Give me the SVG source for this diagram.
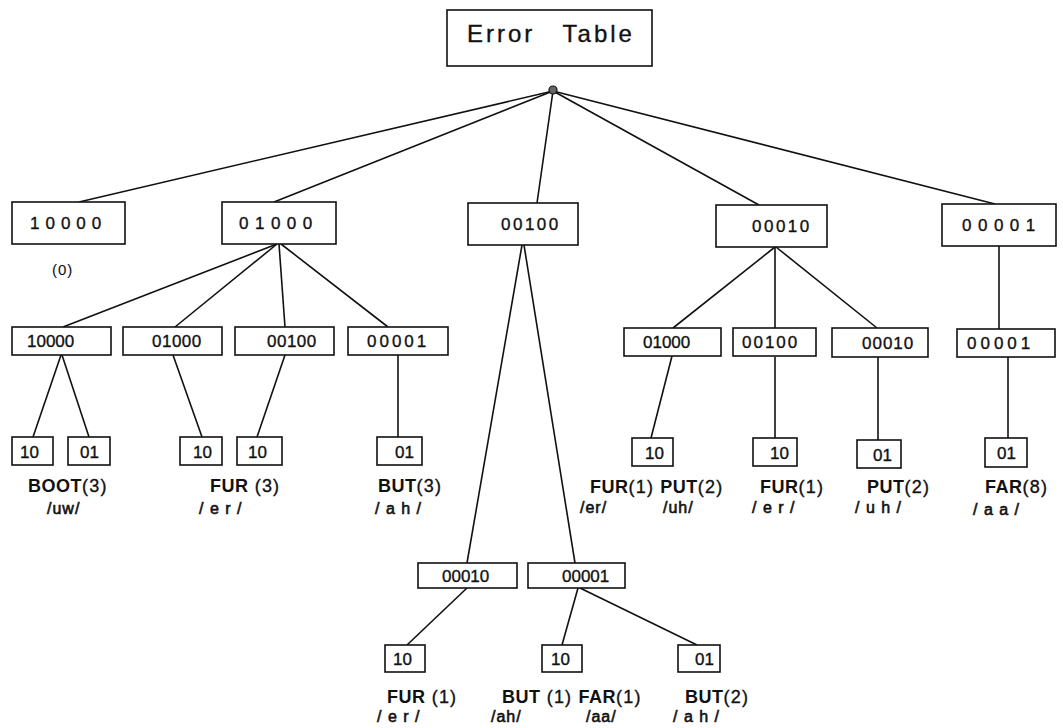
<svg xmlns="http://www.w3.org/2000/svg" width="1063" height="728" viewBox="0 0 1063 728">
<style>
  .box { fill: #fff; stroke: #111; stroke-width: 1.6; }
  .ln { stroke: #111; stroke-width: 1.6; fill: none; }
  text { font-family: "Liberation Sans", Arial, sans-serif; fill: #111; stroke: #111; stroke-width: 0.35; }
  .title { font-size: 24px; letter-spacing: 3px; word-spacing: 18px; }
  .l1 { font-size: 17px; }
  .l2 { font-size: 17px; }
  .lf { font-size: 17px; }
  .lab { font-size: 18px; letter-spacing: 1.2px; }
  .w { font-weight: bold; stroke-width: 0; letter-spacing: 0.5px; }
  .ph { font-size: 16px; letter-spacing: 1px; stroke-width: 0.6; }
  .cnt { font-size: 15px; letter-spacing: 1px; stroke-width: 0.1; }
</style>
<rect width="1063" height="728" fill="#fff"/>

<g id="connectors">
  <line class="ln" x1="553" y1="91" x2="79" y2="202"/>
  <line class="ln" x1="553" y1="91" x2="274" y2="202"/>
  <line class="ln" x1="553" y1="91" x2="537" y2="203"/>
  <line class="ln" x1="553" y1="91" x2="759" y2="205"/>
  <line class="ln" x1="553" y1="91" x2="995" y2="204"/>

  <line class="ln" x1="277" y1="244" x2="63" y2="327"/>
  <line class="ln" x1="277" y1="244" x2="175" y2="327"/>
  <line class="ln" x1="279" y1="244" x2="285" y2="327"/>
  <line class="ln" x1="281" y1="244" x2="388" y2="327"/>

  <line class="ln" x1="522" y1="245" x2="467" y2="563"/>
  <line class="ln" x1="524" y1="245" x2="575" y2="563"/>

  <line class="ln" x1="775" y1="247" x2="673" y2="328"/>
  <line class="ln" x1="775" y1="247" x2="775" y2="328"/>
  <line class="ln" x1="776" y1="247" x2="877" y2="328"/>
  <line class="ln" x1="999" y1="246" x2="999" y2="329"/>

  <line class="ln" x1="61" y1="355" x2="33" y2="437"/>
  <line class="ln" x1="62" y1="355" x2="89" y2="437"/>
  <line class="ln" x1="173" y1="355" x2="202" y2="437"/>
  <line class="ln" x1="285" y1="355" x2="257" y2="437"/>
  <line class="ln" x1="398" y1="355" x2="398" y2="437"/>
  <line class="ln" x1="672" y1="356" x2="651" y2="438"/>
  <line class="ln" x1="775" y1="357" x2="775" y2="438"/>
  <line class="ln" x1="878" y1="357" x2="878" y2="440"/>
  <line class="ln" x1="1008" y1="357" x2="1008" y2="438"/>

  <line class="ln" x1="467" y1="588" x2="407" y2="645"/>
  <line class="ln" x1="578" y1="588" x2="562" y2="645"/>
  <line class="ln" x1="580" y1="588" x2="697" y2="645"/>
</g>

<g id="root">
  <rect class="box" x="447" y="10" width="205" height="56"/>
  <text class="title" x="467" y="42">Error Table</text>
  <circle cx="553" cy="90" r="4" fill="#666" stroke="#111" stroke-width="1.2"/>
</g>

<g id="n1-10000">
  <rect class="box" x="12" y="202" width="113" height="42"/>
  <text class="l1" x="30" y="229" style="letter-spacing:6px">10000</text>
  <text class="cnt" x="52" y="275">(0)</text>
</g>
<g id="n1-01000">
  <rect class="box" x="222" y="202" width="114" height="42"/>
  <text class="l1" x="239" y="229" style="letter-spacing:6.5px">01000</text>
</g>
<g id="n1-00100">
  <rect class="box" x="468" y="203" width="110" height="42"/>
  <text class="l1" x="501" y="230" style="letter-spacing:2.5px">00100</text>
</g>
<g id="n1-00010">
  <rect class="box" x="716" y="205" width="111" height="42"/>
  <text class="l1" x="752" y="232" style="letter-spacing:2.5px">00010</text>
</g>
<g id="n1-00001">
  <rect class="box" x="942" y="204" width="114" height="42"/>
  <text class="l1" x="962" y="231" style="letter-spacing:6.5px">00001</text>
</g>

<g id="n2-a-10000">
  <rect class="box" x="12" y="327" width="99" height="28"/>
  <text class="l2" x="27" y="347">10000</text>
</g>
<g id="n2-a-01000">
  <rect class="box" x="123" y="327" width="99" height="28"/>
  <text class="l2" x="152" y="347" style="letter-spacing:0.5px">01000</text>
</g>
<g id="n2-a-00100">
  <rect class="box" x="235" y="327" width="99" height="28"/>
  <text class="l2" x="267" y="347" style="letter-spacing:0.5px">00100</text>
</g>
<g id="n2-a-00001">
  <rect class="box" x="348" y="327" width="100" height="28"/>
  <text class="l2" x="367" y="347" style="letter-spacing:3px">00001</text>
</g>

<g id="n2-d-01000">
  <rect class="box" x="624" y="328" width="97" height="28"/>
  <text class="l2" x="643" y="348">01000</text>
</g>
<g id="n2-d-00100">
  <rect class="box" x="733" y="328" width="83" height="28"/>
  <text class="l2" x="742" y="348" style="letter-spacing:2px">00100</text>
</g>
<g id="n2-d-00010">
  <rect class="box" x="832" y="328" width="96" height="29"/>
  <text class="l2" x="862" y="349" style="letter-spacing:1px">00010</text>
</g>
<g id="n2-e-00001">
  <rect class="box" x="957" y="329" width="98" height="28"/>
  <text class="l2" x="967" y="349" style="letter-spacing:4px">00001</text>
</g>

<g id="n3-boot-10">
  <rect class="box" x="12" y="437" width="41" height="28"/>
  <text class="lf" x="20" y="458">10</text>
</g>
<g id="n3-boot-01">
  <rect class="box" x="68" y="437" width="42" height="28"/>
  <text class="lf" x="80" y="458">01</text>
</g>
<g id="n3-fur-10a">
  <rect class="box" x="180" y="437" width="42" height="28"/>
  <text class="lf" x="193" y="458">10</text>
</g>
<g id="n3-fur-10b">
  <rect class="box" x="237" y="437" width="45" height="28"/>
  <text class="lf" x="248" y="458">10</text>
</g>
<g id="n3-but-01">
  <rect class="box" x="377" y="437" width="45" height="28"/>
  <text class="lf" x="395" y="458">01</text>
</g>
<g id="n3-d-10a">
  <rect class="box" x="632" y="438" width="41" height="28"/>
  <text class="lf" x="645" y="459">10</text>
</g>
<g id="n3-d-10b">
  <rect class="box" x="753" y="438" width="44" height="28"/>
  <text class="lf" x="770" y="459">10</text>
</g>
<g id="n3-d-01">
  <rect class="box" x="857" y="440" width="44" height="28"/>
  <text class="lf" x="873" y="461">01</text>
</g>
<g id="n3-e-01">
  <rect class="box" x="985" y="438" width="42" height="29"/>
  <text class="lf" x="997" y="459">01</text>
</g>

<g id="n4-c-00010">
  <rect class="box" x="418" y="563" width="99" height="25"/>
  <text class="l2" x="442" y="582">00010</text>
</g>
<g id="n4-c-00001">
  <rect class="box" x="528" y="563" width="97" height="25"/>
  <text class="l2" x="562" y="582">00001</text>
</g>

<g id="n5-fur-10">
  <rect class="box" x="385" y="645" width="40" height="27"/>
  <text class="lf" x="393" y="665">10</text>
</g>
<g id="n5-but-10">
  <rect class="box" x="542" y="645" width="40" height="27"/>
  <text class="lf" x="551" y="665">10</text>
</g>
<g id="n5-but-01">
  <rect class="box" x="678" y="645" width="42" height="27"/>
  <text class="lf" x="695" y="665">01</text>
</g>

<g id="labels">
  <text class="lab" x="28" y="492"><tspan class="w">BOOT</tspan>(3)</text>
  <text class="ph" x="47" y="514">/uw/</text>
  <text class="lab" x="210" y="492"><tspan class="w">FUR</tspan> (3)</text>
  <text class="ph" x="199" y="514">/ e r /</text>
  <text class="lab" x="378" y="492"><tspan class="w">BUT</tspan>(3)</text>
  <text class="ph" x="375" y="514">/ a h /</text>

  <text class="lab" x="590" y="493"><tspan class="w">FUR</tspan>(1) <tspan class="w">PUT</tspan>(2)</text>
  <text class="ph" x="580" y="513">/er/</text>
  <text class="ph" x="663" y="513">/uh/</text>
  <text class="lab" x="760" y="493"><tspan class="w">FUR</tspan>(1)</text>
  <text class="ph" x="752" y="513">/ e r /</text>
  <text class="lab" x="867" y="493"><tspan class="w">PUT</tspan>(2)</text>
  <text class="ph" x="855" y="513">/ u h /</text>
  <text class="lab" x="985" y="493"><tspan class="w">FAR</tspan>(8)</text>
  <text class="ph" x="973" y="515">/ a a /</text>

  <text class="lab" x="387" y="703"><tspan class="w">FUR</tspan> (1)</text>
  <text class="ph" x="377" y="722">/ e r /</text>
  <text class="lab" x="502" y="703"><tspan class="w">BUT</tspan> (1) <tspan class="w">FAR</tspan>(1)</text>
  <text class="ph" x="491" y="722">/ah/</text>
  <text class="ph" x="586" y="722">/aa/</text>
  <text class="lab" x="685" y="703"><tspan class="w">BUT</tspan>(2)</text>
  <text class="ph" x="673" y="722">/ a h /</text>
</g>
</svg>
